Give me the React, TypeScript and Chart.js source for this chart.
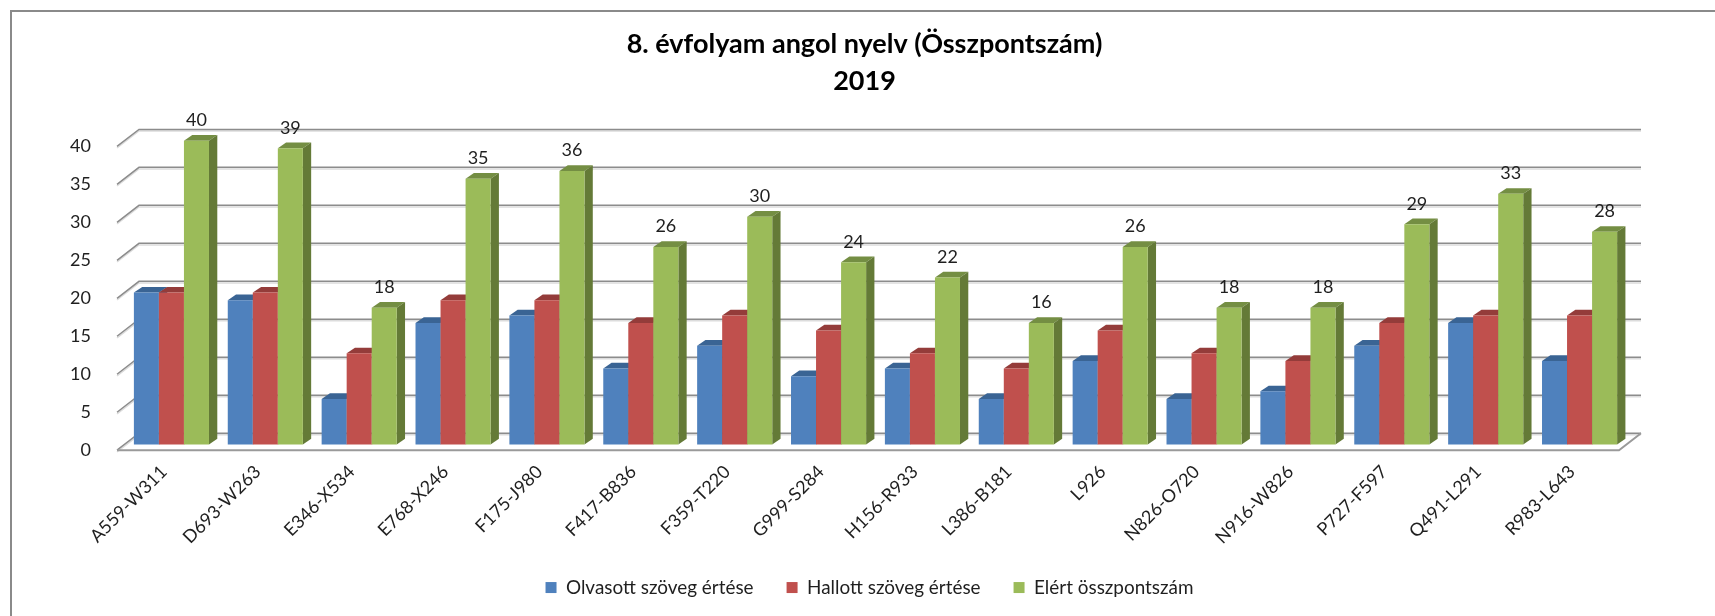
import React, { useEffect, useRef } from "react";
import { Chart, registerables } from "chart.js";

Chart.register(...registerables);

const categories = ["A559-W311", "D693-W263", "E346-X534", "E768-X246", "F175-J980", "F417-B836", "F359-T220", "G999-S284", "H156-R933", "L386-B181", "L926", "N826-O720", "N916-W826", "P727-F597", "Q491-L291", "R983-L643"];
const olvasott = [20, 19, 6, 16, 17, 10, 13, 9, 10, 6, 11, 6, 7, 13, 16, 11];
const hallott = [20, 20, 12, 19, 19, 16, 17, 15, 12, 10, 15, 12, 11, 16, 17, 17];
const osszpont = [40, 39, 18, 35, 36, 26, 30, 24, 22, 16, 26, 18, 18, 29, 33, 28];
const seriesNames = ["Olvasott szöveg értése", "Hallott szöveg értése", "Elért összpontszám"];
const titleLines = ["8. évfolyam angol nyelv (Összpontszám)", "2019"];

const FONT = "Lato";
const TEXT = "#1f1f1f";
const front = ["#4f81bd", "#c0504d", "#9bbb59"];
const topFace = ["#3a6494", "#943c3a", "#748e43"];
const sideFace = ["#34577f", "#7e3331", "#647a37"];

// depth of the floor, and of the bars inside it
const FLOOR_DX = 22, FLOOR_DY = 17;
const BAR_DX = 7.5, BAR_DY = 5.7;
const DEPTH_DX = 8.3, DEPTH_DY = 5.7;

const scene3d = {
  id: "scene3d",
  afterLayout(chart: any) {
    // title and legend are not centred on the page in the original
    chart.titleBlock.left += 55; chart.titleBlock.right += 55;
    chart.legend.left += 60; chart.legend.right += 60;
    // rotated labels run below the reserved band, over the legend's padding
    chart.scales.x.bottom += 30;
  },
  beforeDraw(chart: any) {
    const c = chart.ctx;
    c.save();
    c.strokeStyle = "#8a8a8a";
    c.lineWidth = 2;
    c.beginPath();
    c.moveTo(11, 616); c.lineTo(11, 11); c.lineTo(1715, 11);
    c.stroke();
    c.restore();
  },
  beforeDatasetsDraw(chart: any) {
    const c = chart.ctx, s = chart.scales.y, a = chart.chartArea;
    c.save();
    const y0 = s.getPixelForValue(0);
    const line = (shade: string, d: number) => {
      c.strokeStyle = shade;
      c.beginPath();
      s.ticks.forEach((t: any) => {
        const y = s.getPixelForValue(t.value) + d;
        c.moveTo(a.left, y);
        c.lineTo(a.left + FLOOR_DX, y - FLOOR_DY);
        c.lineTo(a.right + FLOOR_DX, y - FLOOR_DY);
      });
      c.stroke();
    };
    c.lineWidth = 1.5;
    line("#dcdcdc", 1.6);
    line("#8c8c8c", 0);
    c.strokeStyle = "#9a9a9a";
    c.lineWidth = 2;
    c.beginPath();
    c.moveTo(a.left, y0);
    c.lineTo(a.right, y0);
    c.lineTo(a.right + FLOOR_DX, y0 - FLOOR_DY);
    c.stroke();

    // bars sit inside the floor; drawn left to right so each front covers its neighbour's depth
    c.translate(BAR_DX, -BAR_DY);
    [0, 1, 2].forEach((i) => {
      const meta = chart.getDatasetMeta(i);
      meta.data.forEach((b: any) => {
        const { x, y, width, base } = b.getProps(["x", "y", "width", "base"], true);
        const l = x - width / 2, r = x + width / 2;
        c.fillStyle = topFace[i];
        c.beginPath();
        c.moveTo(l, y); c.lineTo(l + DEPTH_DX, y - DEPTH_DY); c.lineTo(r + DEPTH_DX, y - DEPTH_DY); c.lineTo(r, y);
        c.closePath(); c.fill();
        c.fillStyle = sideFace[i];
        c.beginPath();
        c.moveTo(r, y); c.lineTo(r + DEPTH_DX, y - DEPTH_DY); c.lineTo(r + DEPTH_DX, base - DEPTH_DY); c.lineTo(r, base);
        c.closePath(); c.fill();
      });
      meta.controller.draw();
    });
    c.restore();

    c.save();
    c.font = `18px ${FONT}`;
    c.fillStyle = TEXT;
    c.textAlign = "center";
    c.textBaseline = "middle";
    chart.getDatasetMeta(2).data.forEach((b: any, i: number) => {
      c.fillText(String(osszpont[i]), b.x + BAR_DX, b.y - BAR_DY - 20.5);
    });
    c.restore();
    return false;
  },
};

export default function App() {
  const ref = useRef<HTMLCanvasElement>(null);
  useEffect(() => {
    document.body.style.margin = "0";
    const chart = new Chart(ref.current!, {
      type: "bar",
      data: {
        labels: categories,
        datasets: [olvasott, hallott, osszpont].map((data, i) => ({
          label: seriesNames[i],
          data,
          backgroundColor: front[i],
          borderWidth: 0,
          barPercentage: 1,
          categoryPercentage: 0.8,
        })),
      },
      options: {
        responsive: false,
        animation: false,
        layout: { padding: { left: 0, right: 96, top: 0, bottom: 9 } },
        plugins: {
          tooltip: { enabled: false },
          title: {
            display: true,
            text: titleLines,
            color: "#000",
            font: { family: FONT, size: 27, weight: "bold", lineHeight: 1.37 },
            padding: { top: 26, bottom: 46.4 },
          },
          legend: {
            position: "bottom",
            labels: {
              font: { family: FONT, size: 18.9 },
              color: TEXT,
              boxWidth: 11,
              boxHeight: 11,
              padding: 33,
            },
          },
        },
        scales: {
          x: {
            grid: { display: false },
            border: { display: false },
            ticks: {
              color: TEXT,
              font: { family: FONT, size: 18 },
              minRotation: 45,
              maxRotation: 45,
              padding: 3,
              labelOffset: 0,
              autoSkip: false,
            },
            afterFit(s: any) { s.height = 94.9; },
          },
          y: {
            min: 0,
            max: 40,
            grid: { display: false },
            border: { display: false },
            ticks: {
              color: TEXT,
              font: { family: FONT, size: 18 },
              stepSize: 5,
              padding: 18,
            },
            afterFit(s: any) { s.width = 117; },
          },
        },
      },
      plugins: [scene3d],
    });
    return () => chart.destroy();
  }, []);
  return <canvas ref={ref} width={1715} height={616} style={{ display: "block", width: 1715, height: 616, filter: "blur(0.4px)" }} />;
}
